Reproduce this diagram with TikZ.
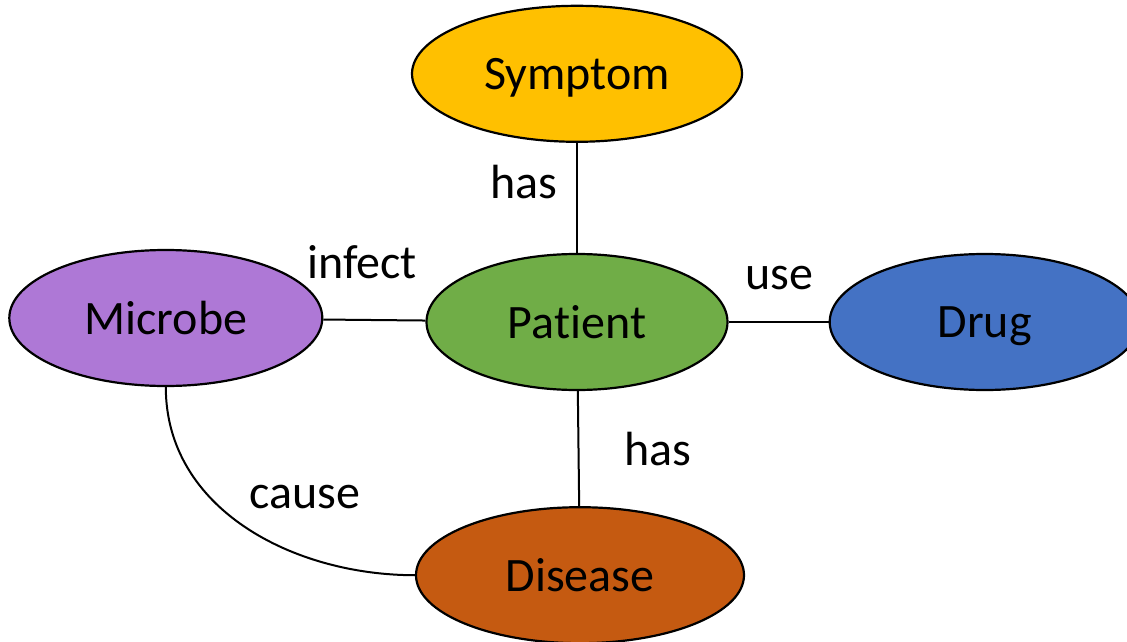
\documentclass[tikz,border=0pt]{standalone}
\usepackage{fontspec}
\setmainfont{Carlito}[Ligatures={NoCommon}]
\usetikzlibrary{shapes.geometric,positioning}
\definecolor{symcol}{HTML}{FFC000}
\definecolor{miccol}{HTML}{AE78D6}
\definecolor{patcol}{HTML}{70AD47}
\definecolor{drucol}{HTML}{4472C4}
\definecolor{discol}{HTML}{C55A11}
\begin{document}
\begin{tikzpicture}[x=1pt,y=-1pt,font=\fontsize{48}{57}\selectfont,
	ent/.style={draw, ellipse, line width=2.2pt, inner sep=0pt, text depth=0pt, minimum width=#1, minimum height=136pt},
	rel/.style={inner sep=0pt},
	every path/.style={line width=2pt}]
		\useasboundingbox (0,0) rectangle (1127,642);
		\node (patient) [ent=301pt, fill=patcol] at (577,322) {Patient};
		\node (symptom) [ent=330pt, fill=symcol, above=110pt of patient] {Symptom};
		\node (microbe) [ent=313pt, fill=miccol, left=102pt of patient, yshift=4pt] {Microbe};
		\node (drug) [ent=310pt, fill=drucol, right=100pt of patient] {Drug};
		\node (disease) [ent=328pt, fill=discol, below=115pt of patient, xshift=3pt] {Disease};
		\draw (symptom) -- node[rel, pos=0.36, left=19pt] {has} (patient);
		\draw (microbe) -- node[rel, pos=0.38, above=40pt] {infect} (patient);
		\draw (patient) -- node[rel, pos=0.51, above=31pt] {use} (drug);
		\draw (patient) -- node[rel, pos=0.5, right=45pt] {has} (disease);
		\draw (microbe) to[out=-90, in=180] node[rel, pos=0.5, anchor=south west, xshift=4pt, yshift=17pt] {cause} (disease);
		\end{tikzpicture}
\end{document}
